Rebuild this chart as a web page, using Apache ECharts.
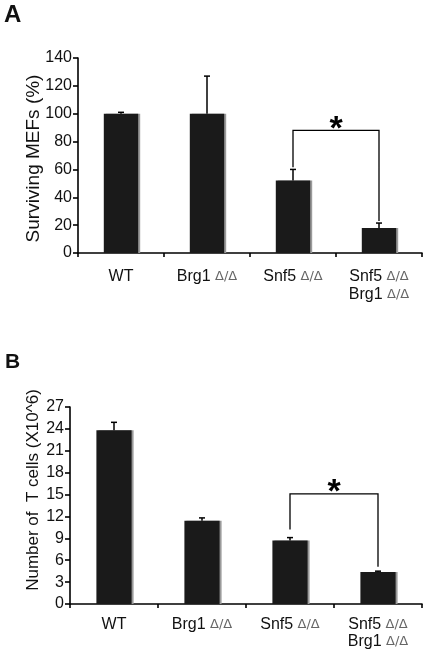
<!DOCTYPE html>
<html><head><meta charset="utf-8">
<script src="https://cdn.jsdelivr.net/npm/echarts@6/dist/echarts.min.js"></script>
<style>html,body{margin:0;padding:0;background:#fff}#c{width:428px;height:657px}</style>
</head><body><div id="c"></div>
<script>
// categories
var categories = ['WT', 'Brg1 Δ/Δ', 'Snf5 Δ/Δ', 'Snf5 Δ/Δ\nBrg1 Δ/Δ'];
// Panel A: surviving MEFs (%)
var mefValues = [100, 100, 52, 18];
var mefErrTop = [101, 127, 60, 21.5];
var mefTicks = [0, 20, 40, 60, 80, 100, 120, 140];
// Panel A significance bracket: [leftIdx, rightIdx, top, leftBottom, rightBottom]
var mefBracket = [[2, 3, 88, 61.5, 23]];
// Panel B: number of T cells (x10^6)
var tcellValues = [23.8, 11.4, 8.7, 4.4];
var tcellErrTop = [24.9, 11.8, 9.1, 4.5];
var tcellTicks = [0, 3, 6, 9, 12, 15, 18, 21, 24, 27];
var tcellBracket = [[2, 3, 15.1, 10.2, 5.1]];

var FONT = 'Liberation Sans, Arial, sans-serif';

function catLabel(v) {
  return v.split('\n').map(function (line) {
    return line.replace(/Δ\/Δ/g, '{d|Δ/Δ}');
  }).join('\n');
}

function xAxis(gi, margin, lh) {
  return {
    type: 'category', gridIndex: gi, data: categories,
    axisLine: { lineStyle: { color: '#000', width: 1.6 } },
    axisTick: { show: true, length: 4, lineStyle: { color: '#000', width: 1.6 } },
    axisLabel: {
      interval: 0, margin: margin, color: '#111', fontFamily: FONT, fontSize: 16, lineHeight: lh,
      formatter: catLabel,
      rich: { d: { fontFamily: 'DejaVu Sans', fontSize: 13, color: '#666', lineHeight: lh } }
    }
  };
}
function yAxis(gi, ticks, name, gap, pad, fs) {
  return {
    type: 'value', gridIndex: gi, min: ticks[0], max: ticks[ticks.length - 1],
    interval: ticks[1] - ticks[0],
    splitLine: { show: false },
    axisLine: { show: true, lineStyle: { color: '#000', width: 1.6 } },
    axisTick: { show: true, length: 5, lineStyle: { color: '#000', width: 1.6 } },
    axisLabel: { margin: 6, color: '#111', fontFamily: FONT, fontSize: 16 },
    name: name, nameLocation: 'middle', nameRotate: 90, nameGap: gap, nameMoveOverlap: false,
    nameTextStyle: { color: '#111', fontFamily: FONT, fontSize: fs, padding: pad }
  };
}
function barSeries(gi, vals) {
  return {
    type: 'bar', xAxisIndex: gi, yAxisIndex: gi, data: vals, barWidth: '40%',
    itemStyle: { color: '#1a1a1a', shadowColor: '#9a9a9a', shadowOffsetX: 2, shadowBlur: 0 },
    silent: true
  };
}
function errSeries(gi, vals, tops) {
  return {
    type: 'custom', xAxisIndex: gi, yAxisIndex: gi, z: 5,
    data: vals.map(function (v, i) { return [i, v, tops[i]]; }),
    renderItem: function (params, api) {
      var b = api.coord([api.value(0), api.value(1)]);
      var t = api.coord([api.value(0), api.value(2)]);
      var st = { stroke: '#000', lineWidth: 1.5 };
      return { type: 'group', children: [
        { type: 'line', shape: { x1: b[0], y1: b[1], x2: t[0], y2: t[1] }, style: st },
        { type: 'line', shape: { x1: t[0] - 3, y1: t[1], x2: t[0] + 3, y2: t[1] }, style: st }
      ] };
    }
  };
}
function bracketSeries(gi, br) {
  return {
    type: 'custom', xAxisIndex: gi, yAxisIndex: gi, z: 6,
    data: br,
    renderItem: function (params, api) {
      var l = api.coord([api.value(0), api.value(2)]);
      var r = api.coord([api.value(1), api.value(2)]);
      var lb = api.coord([api.value(0), api.value(3)]);
      var rb = api.coord([api.value(1), api.value(4)]);
      var st = { stroke: '#000', lineWidth: 1.3, fill: null };
      return { type: 'group', children: [
        { type: 'polyline', shape: { points: [[lb[0], lb[1]], [l[0], l[1]], [r[0], r[1]], [rb[0], rb[1]]] }, style: st },
        { type: 'text', x: (l[0] + r[0]) / 2, y: l[1] + 16,
          style: { text: '*', font: 'bold 34px ' + FONT, fill: '#000', align: 'center', verticalAlign: 'bottom' } }
      ] };
    }
  };
}

var chart = echarts.init(document.getElementById('c'), null, { renderer: 'canvas' });
chart.setOption({
  animation: false,
  backgroundColor: '#fff',
  title: [
    { text: 'A', left: 4, top: 3, padding: 0, textStyle: { fontFamily: FONT, fontSize: 24, fontWeight: 'bold', color: '#111' } },
    { text: 'B', left: 5, top: 352, padding: 0, textStyle: { fontFamily: FONT, fontSize: 21, fontWeight: 'bold', color: '#111' } }
  ],
  grid: [
    { left: 78, top: 58, right: 6, height: 195 },
    { left: 70, top: 407, right: 6, height: 197 }
  ],
  xAxis: [xAxis(0, 15, 18), xAxis(1, 12, 17)],
  yAxis: [
    yAxis(0, mefTicks, 'Surviving MEFs (%)', 35, [0, 6, 0, 0], 19),
    yAxis(1, tcellTicks, 'Number of  T cells (X10^6)', 28, [0, 0, 0, 31], 17)
  ],
  series: [
    barSeries(0, mefValues), errSeries(0, mefValues, mefErrTop), bracketSeries(0, mefBracket),
    barSeries(1, tcellValues), errSeries(1, tcellValues, tcellErrTop), bracketSeries(1, tcellBracket)
  ]
});
</script></body></html>
